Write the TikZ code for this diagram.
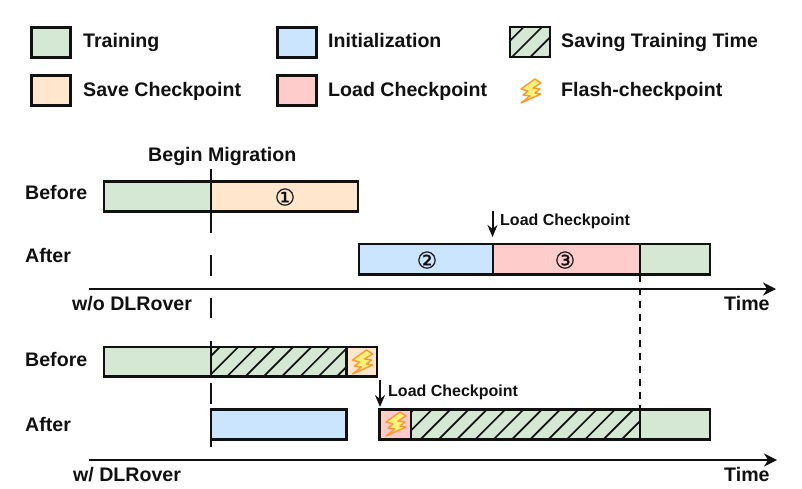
\documentclass[tikz,border=0pt]{standalone}
\usepackage{fontspec}
\setmainfont{Liberation Sans}
\newfontfamily\symfont[FakeBold=0.6]{DejaVu Sans}
\usetikzlibrary{arrows.meta}
\definecolor{trainc}{HTML}{D5E8D4}
\definecolor{initc}{HTML}{CCE5FF}
\definecolor{savec}{HTML}{FFE6CC}
\definecolor{loadc}{HTML}{FFCCCC}
\definecolor{boltf}{HTML}{FFF27A}
\definecolor{boltd}{HTML}{FF9A2E}
\definecolor{inkc}{HTML}{111111}
\tikzset{
  x=1pt,y=-1pt,
  bar/.style={draw=inkc,line width=2.8pt,inner sep=0pt,outer sep=0pt,anchor=north west},
  legbox/.style={bar,minimum width=39pt,minimum height=30pt},
  legtext/.style={anchor=base west,inner sep=0pt,font=\bfseries\fontsize{19.6pt}{22pt}\selectfont,text=inkc},
  rowlabel/.style={legtext},
  smalllabel/.style={anchor=base west,inner sep=0pt,font=\bfseries\fontsize{16pt}{18pt}\selectfont,text=inkc},
  circnum/.style={inner sep=0pt,font=\symfont\fontsize{23pt}{25pt}\selectfont,text=inkc},
  axisline/.style={draw=inkc,line width=2.2pt,-{Stealth[length=13pt,width=13pt]}},
  downarrow/.style={draw=inkc,line width=2pt,-{Stealth[length=12pt,width=10pt]}},
  hatchline/.style={draw=inkc,line width=1.7pt},
  migline/.style={draw=inkc,line width=2.4pt},
  boltshape/.style={draw=boltd,fill=boltf,line width=1.4pt,line join=round}
}
\newcommand{\boltat}[2]{%
  \draw[boltshape,shift={(#1,#2)}] (4,-12)--(-10,-2)--(-3,0)--(-8,4)--(-1,5)--(-10,12)--(10,3)--(4,2)--(9,-2)--(2,-3)--(10,-8)--cycle;}
\newcommand{\hatchrect}[6]{% name, x, y, w, h, phase
  \node[bar,fill=trainc,minimum width=#4pt,minimum height=#5pt] (#1) at (#2,#3) {};
  \begin{scope}
    \clip (#1.north west) rectangle (#1.south east);
    \foreach \k in {-4,...,14}{\draw[hatchline] (#2+#6+\k*18.3,#3+#5+2) -- (#2+#6+\k*18.3+#5+4,#3-2);}
  \end{scope}
  \node[bar,minimum width=#4pt,minimum height=#5pt] at (#2,#3) {};}
\begin{document}
\begin{tikzpicture}
\useasboundingbox (0,0) rectangle (802,488);
\fill[white] (0,0) rectangle (802,488);
% legend
\node[legbox,fill=trainc] (l1) at (31.5,27.5) {};
\node[legtext] (t1) at (83,47.5) {Training};
\node[legbox,fill=savec] (l2) at (31.5,75.5) {};
\node[legtext] (t2) at (83,96) {Save Checkpoint};
\node[legbox,fill=initc] (l3) at (277.5,27.5) {};
\node[legtext] (t3) at (328,47.5) {Initialization};
\node[legbox,fill=loadc] (l4) at (277.5,75.5) {};
\node[legtext] (t4) at (328,96) {Load Checkpoint};
\hatchrect{l5}{510}{27}{40}{30}{0}
\node[legtext] (t5) at (561,47.5) {Saving Training Time};
\boltat{531}{91}
\node[legtext] (t6) at (561,96) {Flash-checkpoint};
% top group
\node[rowlabel] (bm) at (148,161) {Begin Migration};
\node[rowlabel] (r1) at (25,199.5) {Before};
\node[rowlabel] (r2) at (25,262) {After};
\node[rowlabel] (r3) at (72,310.5) {w/o DLRover};
\node[bar,fill=trainc,minimum width=107pt,minimum height=30pt] (a1) at (104,181.5) {};
\node[bar,fill=savec,minimum width=147pt,minimum height=30pt] (a2) at (211,181.5) {};
\node[circnum] at (285,197) {①};
\node[bar,fill=initc,minimum width=134pt,minimum height=30.5pt] (b1) at (359,244) {};
\node[bar,fill=loadc,minimum width=147pt,minimum height=30.5pt] (b2) at (493,244) {};
\node[bar,fill=trainc,minimum width=70pt,minimum height=30.5pt] (b3) at (640,244) {};
\node[circnum] at (427,260) {②};
\node[circnum] at (565,260) {③};
\coordinate (ax1s) at (89,289); \coordinate (ax1e) at (776,289);
\draw[axisline] (ax1s) -- (ax1e);
\node[rowlabel] (tm1) at (724,310) {Time};
\coordinate (d1s) at (492.5,211); \coordinate (d1e) at (492.5,237);
\draw[downarrow] (d1s) -- (d1e);
\node[smalllabel] (lc1) at (500,225.7) {Load Checkpoint};
% bottom group
\node[rowlabel] (r4) at (25,366.7) {Before};
\node[rowlabel] (r5) at (25,431.7) {After};
\node[rowlabel] (r7) at (73,481.7) {w/ DLRover};
\node[bar,fill=trainc,minimum width=107pt,minimum height=29.5pt] (c1) at (104,347) {};
\hatchrect{c2}{211}{347}{135.5}{29.5}{14}
\node[bar,fill=savec,minimum width=30.5pt,minimum height=29.5pt] (c3) at (346.5,347) {};
\boltat{362.5}{362}
\node[bar,fill=initc,minimum width=135.5pt,minimum height=30pt] (e1) at (211,409.5) {};
\node[bar,fill=loadc,minimum width=31.5pt,minimum height=30pt] (e2) at (379.5,409.5) {};
\boltat{396}{424}
\hatchrect{e3}{411}{409.5}{229}{30}{7.3}
\node[bar,fill=trainc,minimum width=70pt,minimum height=30pt] (e4) at (640,409.5) {};
\coordinate (ax2s) at (89,460); \coordinate (ax2e) at (777,460);
\draw[axisline] (ax2s) -- (ax2e);
\node[rowlabel] (tm2) at (724,481.7) {Time};
\coordinate (d2s) at (380,380); \coordinate (d2e) at (380,407);
\draw[downarrow] (d2s) -- (d2e);
\node[smalllabel] (lc2) at (388,396.7) {Load Checkpoint};
% migration line
\coordinate (m0) at (211,169); \coordinate (m1) at (211,233);
\draw[migline] (m0) -- (m1);
\coordinate (m2) at (211,255); \coordinate (m3) at (211,276);
\draw[migline] (m2) -- (m3);
\coordinate (m4) at (211,298); \coordinate (m5) at (211,318);
\draw[migline] (m4) -- (m5);
\coordinate (m6) at (211,341); \coordinate (m7) at (211,378);
\draw[migline] (m6) -- (m7);
\coordinate (m8) at (211,383); \coordinate (m9) at (211,404);
\draw[migline] (m8) -- (m9);
\coordinate (m10) at (211,408); \coordinate (m11) at (211,447);
\draw[migline] (m10) -- (m11);
\coordinate (v0) at (640,275); \coordinate (v1) at (640,408);
\draw[inkc,line width=1.6pt,dash pattern=on 7pt off 6pt] (v0) -- (v1);
\end{tikzpicture}
\end{document}
